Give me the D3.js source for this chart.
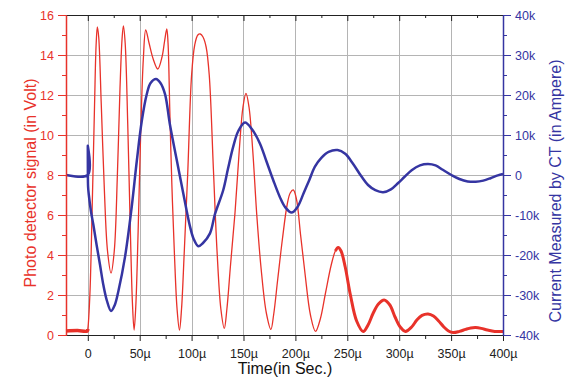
<!DOCTYPE html>
<html>
<head>
<meta charset="utf-8">
<script src="https://cdn.jsdelivr.net/npm/d3@7"></script>
<style>
  body { margin: 0; background: #fff; }
  svg { font-family: "Liberation Sans", Arial, sans-serif; }
</style>
</head>
<body>
<svg width="566" height="382"></svg>
<script>
// photo detector signal (red), time in micro sec
var redTime = [-21, -10, -0.5, 0, 2, 4.5, 6.5, 8, 9.2, 10.5, 13, 16, 19, 22.4, 25.5, 28.5, 31, 33, 34.3, 36, 38.5, 41, 43, 44.6,
  46.2, 48.5, 51, 53.5, 55.8, 59, 63, 67.4, 71.5, 74, 76.1, 77.3, 79, 81, 83.5, 86, 88.3,
  90.3, 92.8, 96.2, 100, 103, 106, 108.4, 111, 114, 117, 121, 124.5, 128.2, 131.5,
  134, 137.5, 141.8, 146, 149.5, 152.4, 155.3, 158.8, 162.8, 167, 172, 176.4,
  179, 183, 187.5, 192, 195, 198, 201, 205, 209.2, 214.5, 219.4,
  224, 229, 234.5, 238.5, 241.2, 244, 248, 253, 259, 265.3,
  270, 275, 280, 285.5, 291, 296, 301, 306, 312, 317, 322, 327.8, 333, 338, 343, 347.5, 352,
  358, 364, 369, 373.7, 379, 385, 392, 400];
var redVolt = [0.2, 0.22, 0.2, 0.3, 2.0, 7.0, 11.5, 14.5, 15.4, 14.9, 11.5, 7.2, 4.2, 3.1, 4.2, 8, 12.3, 14.8, 15.45, 14.6, 10.5, 5.2, 1.6, 0.25,
  1.4, 5.2, 10.2, 13.8, 15.25, 14.6, 13.8, 13.3, 13.9, 14.7, 15.3, 14.6, 11.2, 7.5, 4, 1.3, 0.25,
  1.3, 4, 8, 13, 14.5, 15, 15.05, 14.9, 14.4, 13.0, 8.3, 4.2, 1.3, 0.33,
  1.3, 3.5, 6.1, 9.3, 11.4, 12.08, 11.4, 9.3, 6, 3.3, 1.1, 0.28,
  1.0, 2.8, 4.8, 6.5, 7.1, 7.25, 6.8, 5, 3.1, 1.0, 0.18,
  0.8, 2.1, 3.5, 4.2, 4.38, 4.2, 3.4, 2, 0.7, 0.17,
  0.5, 1.1, 1.55, 1.75, 1.5, 0.9, 0.4, 0.18, 0.4, 0.75, 0.98, 1.05, 0.95, 0.7, 0.4, 0.2, 0.12,
  0.18, 0.28, 0.35, 0.37, 0.33, 0.25, 0.18, 0.17];

// current measured by CT (blue), in kA
var blueTime = [-21, -0.05, 0, 0.05, 0.3, 1, 3, 5.4, 8.5, 11.8, 15, 18.5, 22.4, 26, 29.5, 35.9, 42.3, 47.2, 52, 56.8, 60.5, 65.7,
  70, 74.4, 79.2, 85.7, 92, 98.5, 102, 106.4, 111, 117.7, 122.5, 130.5, 135, 140.1, 145, 151.4,
  158, 165.8, 172, 178.6, 185, 190, 196.3, 202, 208, 213, 218.8, 225, 232, 240.6,
  248, 255, 263.7, 270, 277, 284.5, 292, 299, 305, 312, 320, 327.8, 335, 342, 350.3,
  358, 366, 373.7, 381, 388, 395, 400];
var blueAmp = [0, 0, 7.3, 2, -3, -5, -9, -12.5, -17.5, -22.5, -27.5, -31.5, -34, -32.5, -29, -20.4, -8, 3.5, 13.5, 20.2, 23, 24,
  23, 20.2, 12.5, 3.75, -4.6, -12.9, -16, -17.8, -17, -14.6, -9.8, -3.75, 1.5, 7.1, 11, 13.1,
  11.5, 7.9, 3.5, -1.25, -5.5, -8, -9.4, -8, -4.5, -1.5, 2.1, 4.3, 5.8, 6.25,
  5.3, 3, -0.4, -2.5, -3.8, -4.3, -3.6, -2, -0.5, 1.2, 2.4, 2.75, 2.4, 1.3, 0,
  -1, -1.6, -1.7, -1.4, -0.8, -0.1, 0.25];

var xTicks = [0, 50, 100, 150, 200, 250, 300, 350, 400];
var xMinor = [25, 75, 125, 175, 225, 275, 325, 375];
var leftTicks = [0, 2, 4, 6, 8, 10, 12, 14, 16];
var leftMinor = [1, 3, 5, 7, 9, 11, 13, 15];
var rightTicks = [-40, -30, -20, -10, 0, 10, 20, 30, 40];
var rightMinor = [-35, -25, -15, -5, 5, 15, 25, 35];

var red = "#e8322a";
var blue = "#3535a2";

var pLeft = 66, pRight = 503, pTop = 15, pBottom = 335;

var svg = d3.select("svg");

var x = d3.scaleLinear().domain([-21, 400]).range([pLeft, pRight]);
var yL = d3.scaleLinear().domain([0, 16]).range([pBottom, pTop]);
var yR = d3.scaleLinear().domain([-40, 40]).range([pBottom, pTop]);

// grid
var grid = svg.append("g").attr("stroke", "#b4b4b4").attr("stroke-width", 1);
grid.selectAll("line.v").data(xTicks.slice(0, -1)).enter().append("line")
  .attr("x1", function(d){ return Math.round(x(d)) + 0.5; })
  .attr("x2", function(d){ return Math.round(x(d)) + 0.5; })
  .attr("y1", pTop).attr("y2", pBottom);
grid.selectAll("line.h").data(leftTicks.slice(1, -1)).enter().append("line")
  .attr("x1", pLeft).attr("x2", pRight)
  .attr("y1", function(d){ return Math.round(yL(d)) + 0.5; })
  .attr("y2", function(d){ return Math.round(yL(d)) + 0.5; });

// curves
var redData = redTime.map(function(t, i){ return [t, redVolt[i]]; });
var blueData = blueTime.map(function(t, i){ return [t, blueAmp[i]]; });

var redLine = d3.line()
  .x(function(d){ return x(d[0]); })
  .y(function(d){ return yL(d[1]); })
  .curve(d3.curveCatmullRom.alpha(0.5));
var blueLine = d3.line()
  .x(function(d){ return x(d[0]); })
  .y(function(d){ return yR(d[1]); })
  .curve(d3.curveCatmullRom.alpha(0.5));

svg.append("path").datum(redData)
  .attr("d", redLine).attr("fill", "none")
  .attr("stroke", red).attr("stroke-width", 1.3);
// noisy parts of the trace look thicker
svg.append("path").datum(redData.filter(function(d){ return d[0] <= 0; }))
  .attr("d", redLine).attr("fill", "none")
  .attr("stroke", red).attr("stroke-width", 3.5);
svg.append("path").datum(redData.filter(function(d){ return d[0] >= 238; }))
  .attr("d", redLine).attr("fill", "none")
  .attr("stroke", red).attr("stroke-width", 3);

svg.append("path").datum(blueData)
  .attr("d", blueLine).attr("fill", "none")
  .attr("stroke", blue).attr("stroke-width", 2.5)
  .attr("stroke-linejoin", "round");

// axes
function styleAxis(g, col){
  g.selectAll("path").attr("stroke", col);
  g.selectAll("line").attr("stroke", col);
  g.selectAll("text").attr("fill", col).style("font-size", "12.5px")
    .style("font-family", "'Liberation Sans', Arial, sans-serif");
}

var gb = svg.append("g").attr("transform", "translate(0," + pBottom + ")")
  .call(d3.axisBottom(x).tickValues(xTicks).tickSize(6).tickSizeOuter(0).tickPadding(8)
    .tickFormat(function(d){ return d == 0 ? "0" : d + "µ"; }));
styleAxis(gb, "#222");
var gbm = svg.append("g").attr("transform", "translate(0," + pBottom + ")")
  .call(d3.axisBottom(x).tickValues(xMinor).tickSize(4).tickSizeOuter(0).tickFormat(""));
styleAxis(gbm, "#222");

var gt = svg.append("g").attr("transform", "translate(0," + pTop + ")")
  .call(d3.axisBottom(x).tickValues(xTicks).tickSize(6).tickSizeOuter(0).tickFormat(""));
styleAxis(gt, "#222");
var gtm = svg.append("g").attr("transform", "translate(0," + pTop + ")")
  .call(d3.axisBottom(x).tickValues(xMinor).tickSize(3).tickSizeOuter(0).tickFormat(""));
styleAxis(gtm, "#222");

var gl = svg.append("g").attr("transform", "translate(" + pLeft + ",0)")
  .call(d3.axisLeft(yL).tickValues(leftTicks).tickSize(8).tickSizeOuter(0).tickPadding(4));
styleAxis(gl, red);
var glm = svg.append("g").attr("transform", "translate(" + pLeft + ",0)")
  .call(d3.axisLeft(yL).tickValues(leftMinor).tickSize(4).tickSizeOuter(0).tickFormat(""));
styleAxis(glm, red);
gl.select("path").attr("stroke-width", 1.5);

var gr = svg.append("g").attr("transform", "translate(" + pRight + ",0)")
  .call(d3.axisRight(yR).tickValues(rightTicks).tickSize(8).tickSizeOuter(0).tickPadding(4)
    .tickFormat(function(d){ return d == 0 ? "0" : d + "k"; }));
styleAxis(gr, blue);
var grm = svg.append("g").attr("transform", "translate(" + pRight + ",0)")
  .call(d3.axisRight(yR).tickValues(rightMinor).tickSize(4).tickSizeOuter(0).tickFormat(""));
styleAxis(grm, blue);
gr.select("path").attr("stroke-width", 1.5);

// titles
svg.append("text")
  .attr("transform", "translate(36,183) rotate(-90)")
  .attr("text-anchor", "middle")
  .attr("fill", red)
  .style("font-size", "16px")
  .text("Photo detector signal (in Volt)");

svg.append("text")
  .attr("transform", "translate(561,191) rotate(-90)")
  .attr("text-anchor", "middle")
  .attr("fill", blue)
  .style("font-size", "16px")
  .text("Current Measured by CT (in Ampere)");

svg.append("text")
  .attr("x", 285).attr("y", 374)
  .attr("text-anchor", "middle")
  .attr("fill", "#111")
  .style("font-size", "16px")
  .text("Time(in Sec.)");
</script>
</body>
</html>
